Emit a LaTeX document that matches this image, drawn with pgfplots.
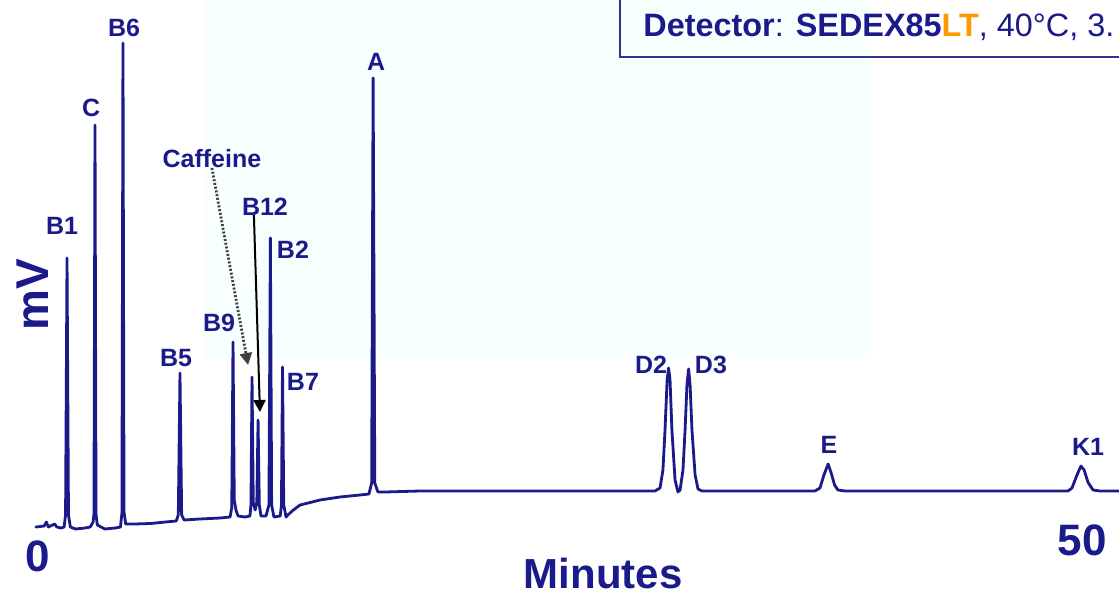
\documentclass[border=0pt]{standalone}
\usepackage{fontspec}
\setmainfont{Liberation Sans}
\usepackage{pgfplots}
\pgfplotsset{compat=1.18}
\usepackage{pgfplotstable}
\usetikzlibrary{arrows.meta}
\definecolor{navy}{RGB}{26,26,138}
\definecolor{boxnavy}{RGB}{50,50,140}
\definecolor{ltorange}{RGB}{255,153,0}
\definecolor{wm}{RGB}{247,255,255}

\pgfplotstableread{
t mV
-0.10 0.6
0.30 0.8
0.40 1.6
0.50 0.6
0.80 1.2
0.90 0.6
1.10 0.4
1.25 0.6
1.32 3.0
1.39 54.4
1.46 3.0
1.55 0.6
1.80 0.2
2.25 0.4
2.50 0.6
2.64 1.6
2.68 3.2
2.73 81.0
2.78 3.2
2.84 1.0
3.20 0.2
3.70 0.4
3.95 0.6
4.02 3.4
4.07 97.4
4.12 3.6
4.20 1.2
4.65 1.2
5.40 1.3
6.10 1.6
6.62 1.8
6.72 3.0
6.80 31.4
6.88 3.0
7.00 2.0
7.76 2.2
8.72 2.4
9.20 2.6
9.28 4.5
9.34 37.6
9.40 6.0
9.48 4.0
9.58 2.8
9.91 2.6
10.15 2.8
10.20 5.0
10.25 30.6
10.31 5.5
10.40 4.0
10.48 5.5
10.54 22.0
10.60 5.0
10.68 2.8
10.92 2.8
11.06 5.0
11.13 58.4
11.19 5.0
11.30 2.6
11.60 2.8
11.66 5.0
11.71 32.6
11.77 5.0
11.88 2.6
11.97 3.0
12.17 3.8
12.55 5.0
13.51 6.0
14.46 6.6
15.42 7.0
15.85 7.2
15.98 9.4
16.05 90.4
16.13 9.4
16.28 7.6
16.62 7.6
18.30 7.8
22.13 7.8
26.92 7.8
29.55 7.8
29.79 8.4
29.93 12.0
30.03 20.0
30.13 30.0
30.20 32.4
30.27 30.0
30.36 20.0
30.51 10.0
30.65 7.6
30.75 8.0
30.89 12.0
30.99 20.0
31.08 29.0
31.16 32.2
31.23 29.0
31.32 20.0
31.47 11.0
31.61 8.2
31.80 7.8
34.10 7.8
37.21 7.8
37.45 8.4
37.64 11.0
37.84 13.2
37.98 11.5
38.15 9.0
38.31 8.0
38.65 7.8
41.28 7.8
46.07 7.8
49.33 7.8
49.52 8.4
49.76 11.0
49.95 12.8
50.10 12.0
50.29 9.5
50.53 8.0
50.86 7.8
52.06 7.8
}\trace

\begin{document}
\begin{tikzpicture}
\useasboundingbox (-16.91pt,-32.5pt) rectangle (542.59pt,265pt);
\clip (-16.91pt,-32.5pt) rectangle (542.59pt,265pt);
\fill[wm] (85.6pt,85pt) rectangle (418.1pt,270pt);
\begin{axis}[at={(0,0)}, anchor=south west, scale only axis,
  width=544.97pt, height=250pt,
  xmin=-0.2, xmax=52, ymin=0, ymax=100,
  hide axis, clip=false]
\addplot[navy, line width=1.4pt, line join=round, line cap=round] table[x=t, y=mV] {\trace};
\begin{scope}[every node/.style={text=navy, font=\fontsize{12.5}{14}\selectfont\bfseries}]
\node at (axis cs:1.15,60.8) {B1};
\node at (axis cs:2.54,84.4) {C};
\node at (axis cs:4.12,100.4) {B6};
\node at (axis cs:8.33,74.2) {Caffeine};
\node at (axis cs:10.87,64.6) {B12};
\node at (axis cs:12.21,56) {B2};
\node at (axis cs:8.67,41.4) {B9};
\node at (axis cs:6.61,34.4) {B5};
\node at (axis cs:12.69,29.6) {B7};
\node at (axis cs:16.19,93.6) {A};
\node at (axis cs:29.36,33) {D2};
\node at (axis cs:32.23,33) {D3};
\node at (axis cs:37.88,17) {E};
\node at (axis cs:50.29,16.6) {K1};
\end{scope}
\draw[black!75, line width=1.4pt, dash pattern=on 1pt off 0.9pt, -{Triangle[width=6pt,length=6pt]}] (axis cs:8.33,72.4) -- (axis cs:10.06,33);
\draw[black, line width=1pt, -{Triangle[width=6pt,length=6pt]}] (axis cs:10.34,63) -- (axis cs:10.63,23.6);
\node[text=navy, font=\fontsize{23}{26}\selectfont\bfseries, rotate=90] at (axis cs:-0.24,47) {mV};
\node[text=navy, font=\fontsize{22}{24}\selectfont\bfseries] at (axis cs:0,-5.2) {0};
\node[text=navy, font=\fontsize{22}{24}\selectfont\bfseries] at (axis cs:50,-2) {50};
\node[text=navy, font=\fontsize{21}{24}\selectfont\bfseries, inner sep=0pt] at (axis cs:27.06,-8.6) {Minutes};
\end{axis}
\draw[boxnavy, line width=0.8pt] (293.1pt,270pt) -- (293.1pt,236.5pt) -- (560pt,236.5pt);
\node[anchor=base west, inner sep=0pt, text=navy, font=\fontsize{16.2}{19}\selectfont] at (304.6pt,246.5pt) {\textbf{Detector}: \textbf{SEDEX85}\textcolor{ltorange}{\textbf{LT}}, 40°C, 3.};
\end{tikzpicture}
\end{document}
